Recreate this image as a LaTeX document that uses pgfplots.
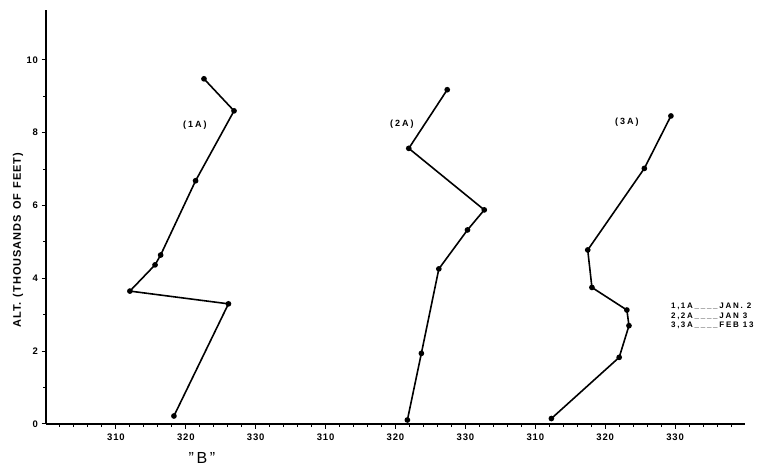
\documentclass[border=0pt]{standalone}
\usepackage{pgfplots}
\pgfplotsset{compat=1.18}
\usepackage{fontspec}
\setmainfont{Liberation Sans}
\newfontfamily\lbl[LetterSpace=9]{Liberation Sans}
\newfontfamily\lblw[LetterSpace=22]{Liberation Sans}
\begin{document}
\begin{tikzpicture}
\begin{axis}[
  scale only axis, width=699pt, height=414pt,
  xmin=300, xmax=400, ymin=0, ymax=11.37,
  axis x line*=bottom, axis y line*=left,
  axis line style={-, line width=1.5pt, black},
  xtick={310,320,...,390},
  xticklabels={310,320,330,310,320,330,310,320,330},
  minor xtick={302,304,...,398},
  ytick={0,2,...,10},
  minor ytick={1,3,...,9},
  tick align=outside,
  major tick length=4.5pt, minor tick length=3pt,
  tick style={line width=1pt, black},
  ticklabel style={font=\lbl\bfseries\fontsize{9.5}{10}\selectfont},
  xticklabel style={yshift=-2pt},
  /pgf/number format/assume math mode=true,
  clip=false,
]
\addplot[line width=1.6pt, mark=*, mark size=2pt, mark options={fill=black}]
  table[x=B, y=alt] {
B alt
318.3 0.22
326.1 3.30
312.0 3.65
315.6 4.37
316.4 4.64
321.4 6.68
326.9 8.60
322.6 9.48
};
\addplot[line width=1.6pt, mark=*, mark size=2pt, mark options={fill=black}]
  table[x expr=\thisrow{B}+30, y=alt] {
B alt
321.7 0.11
323.7 1.94
326.2 4.26
330.3 5.33
332.7 5.88
321.9 7.57
327.4 9.18
};
\addplot[line width=1.6pt, mark=*, mark size=2pt, mark options={fill=black}]
  table[x expr=\thisrow{B}+60, y=alt] {
B alt
312.3 0.15
322.0 1.83
323.4 2.70
323.1 3.13
318.1 3.75
317.5 4.78
325.6 7.02
329.4 8.46
};
\node[font=\lblw\bfseries\fontsize{9}{10}\selectfont] at (axis cs:321.3,8.21) {(1A)};
\node[font=\lblw\bfseries\fontsize{9}{10}\selectfont] at (axis cs:350.9,8.24) {(2A)};
\node[font=\lblw\bfseries\fontsize{9}{10}\selectfont] at (axis cs:383.1,8.30) {(3A)};
\node[anchor=west, inner sep=0pt, font=\lblw\bfseries\fontsize{8}{8}\selectfont] at (axis cs:389.4,3.24) {1,\,1A\_\_\_\_JAN.\ 2};
\node[anchor=west, inner sep=0pt, font=\lblw\bfseries\fontsize{8}{8}\selectfont] at (axis cs:389.4,2.97) {2,\,2A\_\_\_\_JAN\ 3};
\node[anchor=west, inner sep=0pt, font=\lblw\bfseries\fontsize{8}{8}\selectfont] at (axis cs:389.4,2.70) {3,\,3A\_\_\_\_FEB\ 13};
\node[rotate=90, font=\lbl\bfseries\fontsize{11}{12}\selectfont] at (axis description cs:-0.040,0.444) {ALT.\hspace{5pt}(THOUSANDS\hspace{5pt}OF\hspace{5pt}FEET)};
\node[font=\fontsize{16}{18}\selectfont] at (axis description cs:0.223,-0.082) {"\,B\,"};
\end{axis}
\pgfresetboundingbox
\path[use as bounding box] ([shift={(-46pt,-49pt)}]current axis.south west) rectangle ([shift={(25pt,10pt)}]current axis.north east);
\end{tikzpicture}
\end{document}
